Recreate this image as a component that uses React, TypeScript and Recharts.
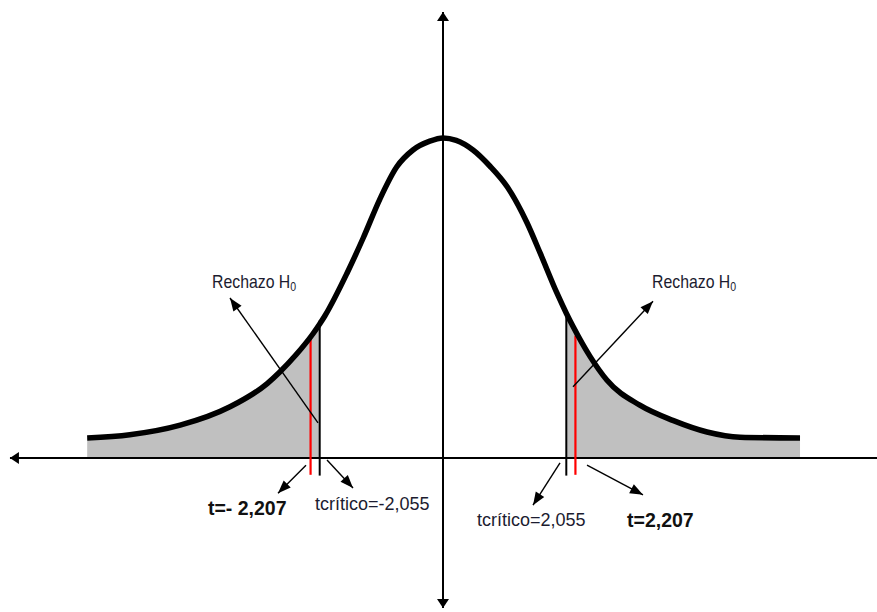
import { ComposedChart, Line, Area, XAxis, YAxis, ReferenceLine, ReferenceDot } from "recharts";

// curve (t on x, height above the axis on y)
const curveX = [-5.93, -5.22, -4.38, -3.55, -2.93, -2.72, -2.45, -2.17, -2.055, -1.97, -1.6, -1.33, -1.05, -0.77, -0.5, -0.22, 0, 0.22, 0.5, 0.78, 1.07, 1.4, 1.62, 1.9, 2.055, 2.17, 2.45, 2.73, 3.28, 3.83, 4.4, 4.95, 5.95];
const curveY = [0.025, 0.029, 0.041, 0.064, 0.093, 0.1075, 0.129, 0.155, 0.1675, 0.1775, 0.231, 0.275, 0.324, 0.364, 0.385, 0.396, 0.4, 0.397, 0.385, 0.365, 0.339, 0.294, 0.256, 0.206, 0.181, 0.164, 0.127, 0.0975, 0.066, 0.047, 0.0325, 0.026, 0.025];

const tCritical = [-2.055, 2.055];
const tCriticalTop = [0.172, 0.177];
const tStat = [-2.207, 2.207];
const tStatTop = [0.15, 0.153];

const critLabels = ["tcrítico=-2,055", "tcrítico=2,055"];
const statLabels = ["t=- 2,207", "t=2,207"];
const rejectLabel = "Rechazo H";

const X_MIN = -7.383;
const X_MAX = 7.233;
const Y_MIN = -0.1925;
const Y_MAX = 0.5725;

const data = curveX.map((x, i) => ({
  x,
  y: curveY[i],
  left: x <= tCritical[0] + 1e-9 ? curveY[i] : null,
  right: x >= tCritical[1] - 1e-9 ? curveY[i] : null,
}));

// annotation arrows: [from, to] in chart coords, head at "to"
const pointers = [
  [[-2.083, 0.044], [-3.55, 0.2]],
  [[-2.283, -0.009], [-2.75, -0.044]],
  [[-1.933, -0.0025], [-1.5, -0.0375]],
  [[2.167, 0.089], [3.5, 0.196]],
  [[1.95, -0.006], [1.5, -0.059]],
  [[2.4, -0.009], [3.333, -0.046]],
];

const FONT = "'Liberation Sans', Arial, sans-serif";

function head(x1: number, y1: number, x2: number, y2: number, len: number, wid: number) {
  const dx = x2 - x1;
  const dy = y2 - y1;
  const d = Math.sqrt(dx * dx + dy * dy) || 1;
  const ux = dx / d;
  const uy = dy / d;
  const bx = x2 - ux * len;
  const by = y2 - uy * len;
  return `${x2},${y2} ${bx - uy * wid / 2},${by + ux * wid / 2} ${bx + uy * wid / 2},${by - ux * wid / 2}`;
}

function arrow(atStart: boolean, atEnd: boolean, len: number, wid: number, sw: number) {
  return (p: any) => {
    const { x1, y1, x2, y2 } = p;
    return (
      <g>
        <line x1={x1} y1={y1} x2={x2} y2={y2} stroke="#000" strokeWidth={sw} />
        {atEnd && <polygon points={head(x1, y1, x2, y2, len, wid)} fill="#000" />}
        {atStart && <polygon points={head(x2, y2, x1, y1, len, wid)} fill="#000" />}
      </g>
    );
  };
}

function textAt(value: string, size: number, bold: boolean, squeeze = 1, sub = false) {
  return (p: any) => (
    <text
      transform={`translate(${p.cx},${p.cy}) scale(${squeeze},1)`}
      x={0}
      y={0}
      fontFamily={FONT}
      fontSize={size}
      fontWeight={bold ? 700 : 400}
      fill={bold ? "#111" : "#1c1c30"}
    >
      {value}
      {sub && (
        <tspan fontSize={12} dy={3}>
          0
        </tspan>
      )}
    </text>
  );
}

export default function App() {
  return (
    <div style={{ position: "absolute", left: 0, top: 0, background: "#fff" }}>
      <ComposedChart width={877} height={612} data={data} margin={{ top: 0, right: 0, bottom: 0, left: 0 }}>
        <XAxis dataKey="x" type="number" domain={[X_MIN, X_MAX]} allowDataOverflow hide />
        <YAxis type="number" domain={[Y_MIN, Y_MAX]} allowDataOverflow hide />

        <Area dataKey="left" type="monotone" fill="#c0c0c0" fillOpacity={1} stroke="none" baseValue={0} dot={false} activeDot={false} isAnimationActive={false} />
        <Area dataKey="right" type="monotone" fill="#c0c0c0" fillOpacity={1} stroke="none" baseValue={0} dot={false} activeDot={false} isAnimationActive={false} />

        <ReferenceLine segment={[{ x: -7.217, y: 0 }, { x: X_MAX, y: 0 }]} shape={arrow(true, false, 9, 12, 2)} />
        <ReferenceLine segment={[{ x: 0, y: -0.1875 }, { x: 0, y: 0.5575 }]} shape={arrow(true, true, 9, 12, 2)} />

        {tCritical.map((t, i) => (
          <ReferenceLine key={"c" + i} segment={[{ x: t, y: -0.022 }, { x: t, y: tCriticalTop[i] }]} stroke="#000" strokeWidth={2} />
        ))}
        {tStat.map((t, i) => (
          <ReferenceLine key={"s" + i} segment={[{ x: t, y: -0.021 }, { x: t, y: tStatTop[i] }]} stroke="#ff0000" strokeWidth={2.2} />
        ))}

        {pointers.map((pt, i) => (
          <ReferenceLine key={"p" + i} segment={[{ x: pt[0][0], y: pt[0][1] }, { x: pt[1][0], y: pt[1][1] }]} shape={arrow(false, true, 13, 10, 1.4)} />
        ))}

        <Line
          dataKey="y"
          type="monotone"
          stroke="#000"
          strokeWidth={5.5}
          strokeLinecap="butt"
          strokeLinejoin="round"
          dot={false}
          activeDot={false}
          isAnimationActive={false}
        />

        <ReferenceDot x={-3.85} y={0.2125} r={0} shape={textAt(rejectLabel, 18, false, 0.88, true)} />
        <ReferenceDot x={3.483} y={0.2125} r={0} shape={textAt(rejectLabel, 18, false, 0.88, true)} />
        <ReferenceDot x={-3.917} y={-0.0712} r={0} shape={textAt(statLabels[0], 19.5, true)} />
        <ReferenceDot x={-2.133} y={-0.065} r={0} shape={textAt(critLabels[0], 18, false)} />
        <ReferenceDot x={0.567} y={-0.085} r={0} shape={textAt(critLabels[1], 18, false)} />
        <ReferenceDot x={3.067} y={-0.0862} r={0} shape={textAt(statLabels[1], 19.5, true)} />
      </ComposedChart>
    </div>
  );
}
